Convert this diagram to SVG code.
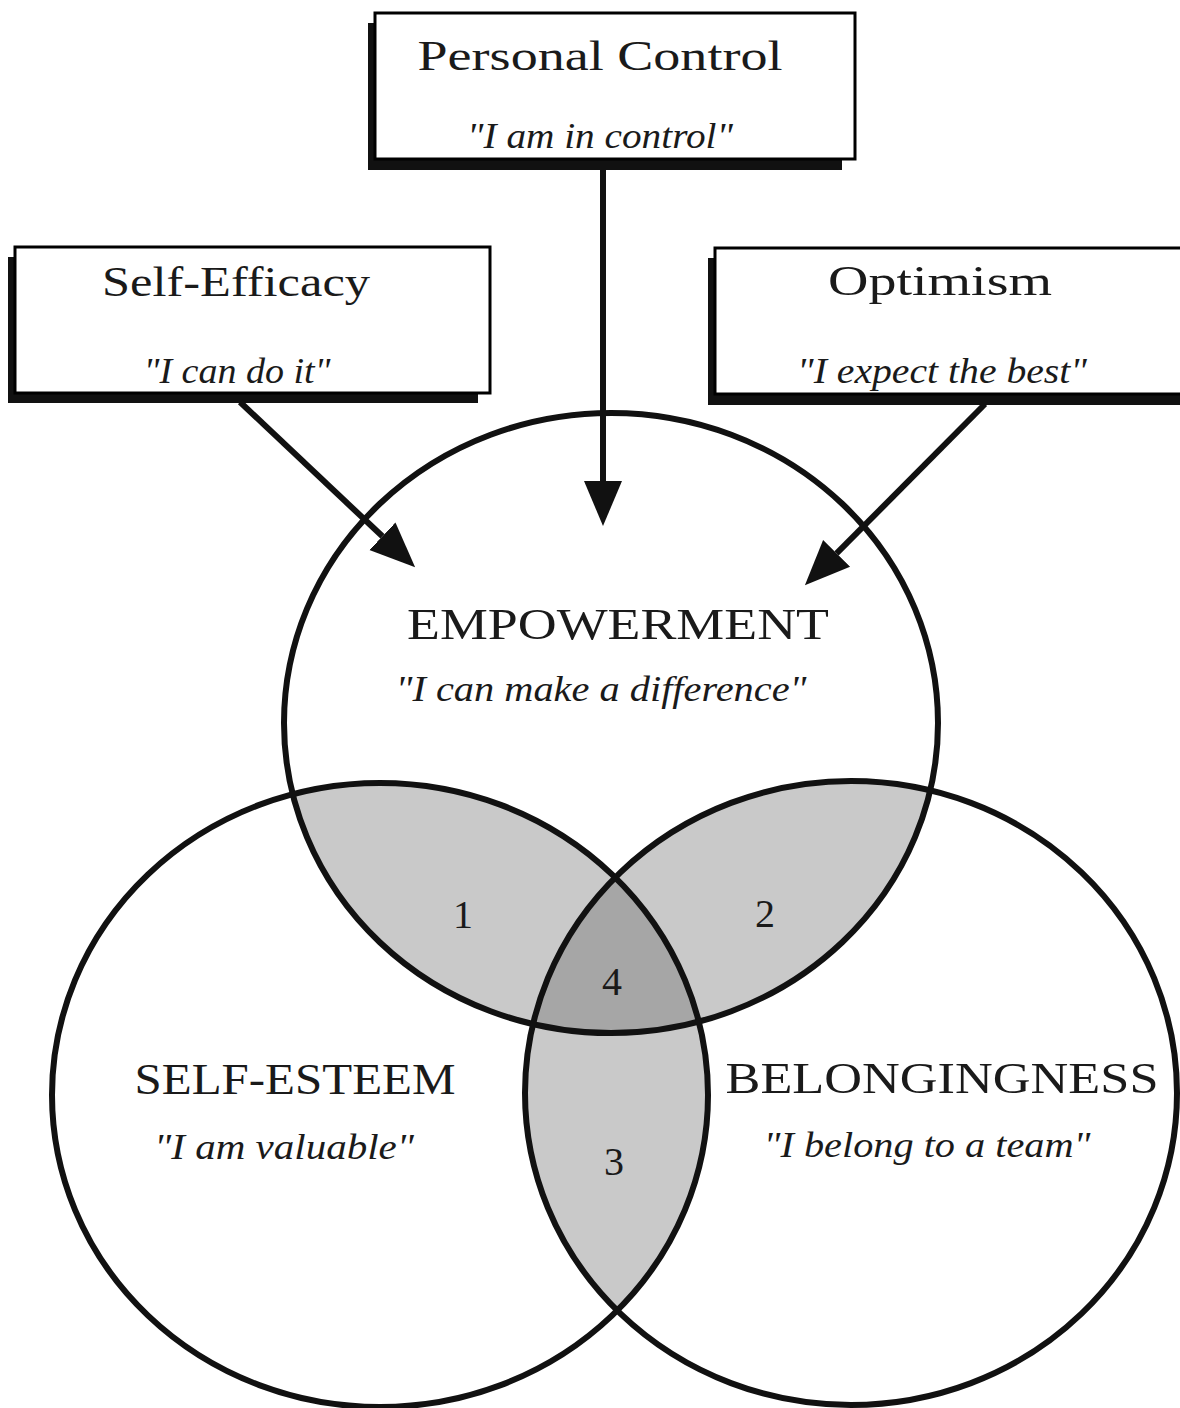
<svg xmlns="http://www.w3.org/2000/svg" width="1180" height="1408" viewBox="0 0 1180 1408">
<style>
  .box { fill: #ffffff; stroke: #000000; stroke-width: 3; }
  .shadow { fill: #111111; }
  .circ { fill: none; stroke: #111111; stroke-width: 6; }
  .title { font-family: "Liberation Serif", "Times New Roman", serif; font-size: 42px; fill: #1a1a1a; text-anchor: middle; }
  .big { font-family: "Liberation Serif", "Times New Roman", serif; font-size: 45px; fill: #1a1a1a; text-anchor: middle; }
  .quote { font-family: "Liberation Serif", "Times New Roman", serif; font-style: italic; font-size: 36px; fill: #1a1a1a; text-anchor: middle; }
  .num { font-family: "Liberation Serif", "Times New Roman", serif; font-size: 40px; fill: #1a1a1a; text-anchor: middle; }
  .conn { stroke: #111111; stroke-width: 6; fill: none; marker-end: url(#arrow); }
  .light { fill: #c9c9c9; }
  .dark { fill: #a6a6a6; }
</style>
<defs>
  <marker id="arrow" markerUnits="userSpaceOnUse" markerWidth="46" markerHeight="42" viewBox="0 -21 46 42" refX="0" refY="0" orient="auto">
    <path d="M0,-19 L45,0 L0,19 Z" fill="#111111"/>
  </marker>
  <clipPath id="clipE"><ellipse cx="611" cy="723" rx="327" ry="310"/></clipPath>
  <clipPath id="clipS"><ellipse cx="380" cy="1095" rx="328" ry="312"/></clipPath>
  <clipPath id="clipB"><ellipse cx="851" cy="1093" rx="326" ry="312"/></clipPath>
</defs>
<rect x="0" y="0" width="1180" height="1408" fill="#ffffff"/>

<g id="overlaps">
  <g id="region-1"><ellipse class="light" cx="611" cy="723" rx="327" ry="310" clip-path="url(#clipS)"/></g>
  <g id="region-2"><ellipse class="light" cx="611" cy="723" rx="327" ry="310" clip-path="url(#clipB)"/></g>
  <g id="region-3"><ellipse class="light" cx="380" cy="1095" rx="328" ry="312" clip-path="url(#clipB)"/></g>
  <g id="region-4" clip-path="url(#clipB)"><ellipse class="dark" cx="611" cy="723" rx="327" ry="310" clip-path="url(#clipS)"/></g>
</g>

<g id="circle-empowerment">
  <ellipse class="circ" cx="611" cy="723" rx="327" ry="310"/>
  <text class="big" x="618" y="639" textLength="422" lengthAdjust="spacingAndGlyphs">EMPOWERMENT</text>
  <text class="quote" x="601" y="701" textLength="411" lengthAdjust="spacingAndGlyphs">"I can make a difference"</text>
</g>
<g id="circle-self-esteem">
  <ellipse class="circ" cx="380" cy="1095" rx="328" ry="312"/>
  <text class="big" x="295" y="1094" textLength="321" lengthAdjust="spacingAndGlyphs">SELF-ESTEEM</text>
  <text class="quote" x="284" y="1159" textLength="260" lengthAdjust="spacingAndGlyphs">"I am valuable"</text>
</g>
<g id="circle-belongingness">
  <ellipse class="circ" cx="851" cy="1093" rx="326" ry="312"/>
  <text class="big" x="942" y="1093" textLength="433" lengthAdjust="spacingAndGlyphs">BELONGINGNESS</text>
  <text class="quote" x="927" y="1157" textLength="327" lengthAdjust="spacingAndGlyphs">"I belong to a team"</text>
</g>

<g id="region-labels">
  <text class="num" x="463" y="928">1</text>
  <text class="num" x="765" y="927">2</text>
  <text class="num" x="614" y="1175">3</text>
  <text class="num" x="612" y="995">4</text>
</g>

<g id="box-personal-control">
  <rect class="shadow" x="368" y="23" width="474" height="147"/>
  <rect class="box" x="375" y="13" width="480" height="146"/>
  <text class="title" x="600" y="70" textLength="365" lengthAdjust="spacingAndGlyphs">Personal Control</text>
  <text class="quote" x="600" y="148" textLength="266" lengthAdjust="spacingAndGlyphs">"I am in control"</text>
</g>
<g id="box-self-efficacy">
  <rect class="shadow" x="8" y="257" width="470" height="146"/>
  <rect class="box" x="15" y="247" width="475" height="146"/>
  <text class="title" x="236" y="296" textLength="268" lengthAdjust="spacingAndGlyphs">Self-Efficacy</text>
  <text class="quote" x="237" y="383" textLength="187" lengthAdjust="spacingAndGlyphs">"I can do it"</text>
</g>
<g id="box-optimism">
  <rect class="shadow" x="708" y="258" width="490" height="147"/>
  <rect class="box" x="715" y="248" width="490" height="146"/>
  <text class="title" x="940" y="295" textLength="224" lengthAdjust="spacingAndGlyphs">Optimism</text>
  <text class="quote" x="942" y="383" textLength="290" lengthAdjust="spacingAndGlyphs">"I expect the best"</text>
</g>

<g id="connectors">
  <line class="conn" x1="603" y1="170" x2="603" y2="481"/>
  <line class="conn" x1="240" y1="402" x2="382.4" y2="536.3"/>
  <line class="conn" x1="985" y1="404" x2="836.6" y2="553.4"/>
</g>
</svg>
